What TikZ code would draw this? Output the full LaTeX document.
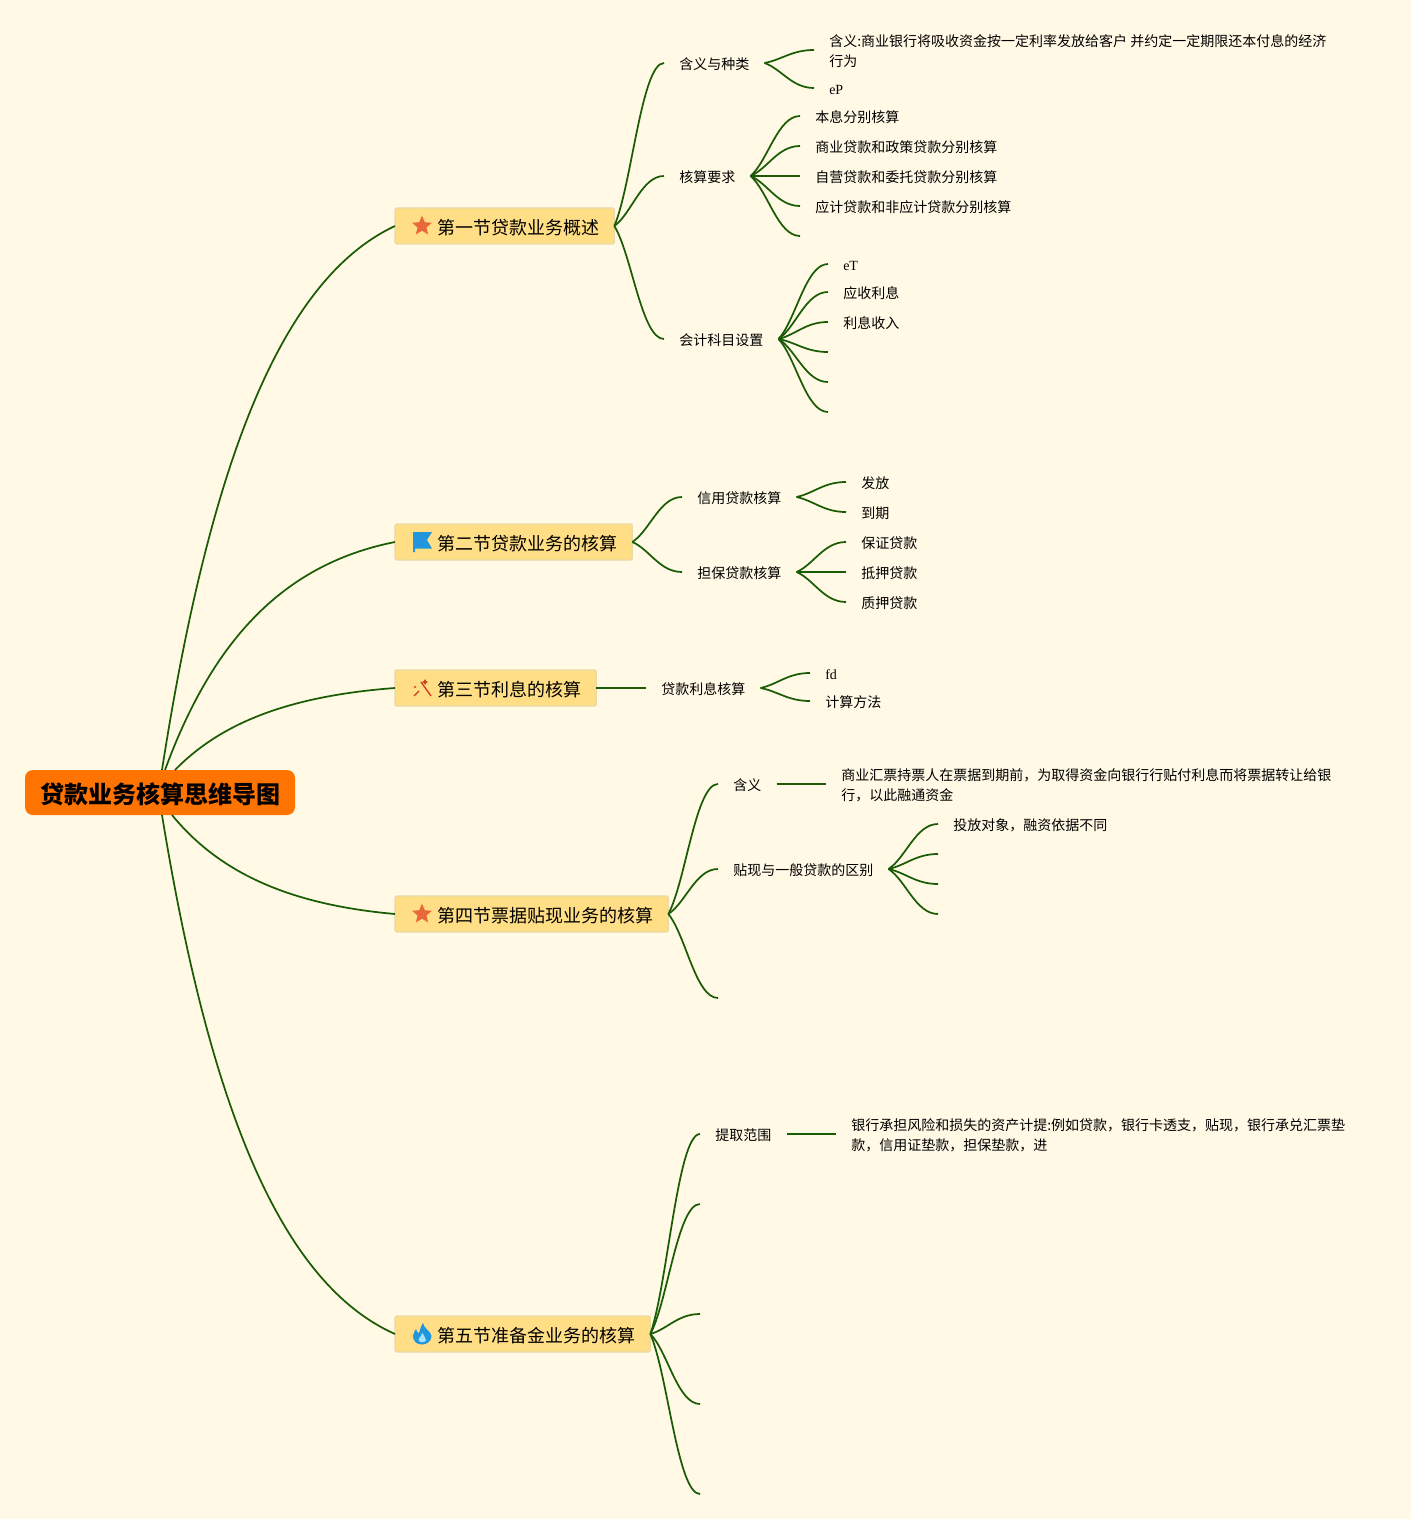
\documentclass[tikz,border=0pt]{standalone}
\usepackage{fontspec}
\setmainfont{Noto Sans CJK SC}
\newfontfamily\latinfont{Liberation Serif}
\usetikzlibrary{calc,shapes.geometric}
\definecolor{paper}{HTML}{FFF9E5}
\definecolor{wire}{HTML}{1A5C05}
\definecolor{rootfill}{HTML}{FF7300}
\definecolor{branchfill}{HTML}{FFDE85}
\definecolor{branchline}{HTML}{E8DAA6}
\definecolor{staricon}{HTML}{E8683A}
\definecolor{blueicon}{HTML}{2196DC}
\definecolor{wandicon}{HTML}{D0391C}
\newcommand{\lift}{\rule{0pt}{10.8pt}}
\tikzset{
    root/.style={fill=rootfill,rounded corners=6pt,minimum width=202.5pt,minimum height=33.75pt,inner sep=0pt,
        text height=17pt,text depth=.3pt,font=\fontsize{18}{22}\bfseries\selectfont},
    branch/.style={anchor=west,fill=branchfill,draw=branchline,line width=.9pt,rounded corners=1.5pt,outer sep=0pt,
        minimum height=27pt,inner xsep=11.5pt,inner ysep=0pt,text height=13pt,text depth=.54pt,
        font=\fontsize{13.5}{18}\selectfont},
    leaf/.style={anchor=west,inner xsep=11.25pt,inner ysep=0pt,text height=11pt,text depth=1.5pt,
        font=\fontsize{10.5}{15}\selectfont},
    longleaf/.style={anchor=west,inner xsep=11.25pt,inner ysep=0pt,align=left,font=\fontsize{10.5}{15}\selectfont},
    wirestyle/.style={draw=wire,line width=1.3pt},
    link/.style={wirestyle,to path={let \p1=(\tikztostart),\p2=(\tikztotarget) in
        .. controls ({\x1+.35*(\x2-\x1)},{\y1+.25*(\y2-\y1)}) and ({\x1+.55*(\x2-\x1)},\y2) .. (\tikztotarget)}},
    trunk/.style={wirestyle,to path={let \p1=(\tikztostart),\p2=(\tikztotarget) in
        .. controls ({\x1+.2*(\x2-\x1)},{\y1+.55*(\y2-\y1)}) and ({\x1+.5*(\x2-\x1)},{\y1+.9*(\y2-\y1)}) .. (\tikztotarget)}},
}
\begin{document}
\begin{tikzpicture}[x=.75pt,y=-.75pt]
    \fill[paper] (0,0) rectangle (1411,1519);
    \useasboundingbox (0,0) rectangle (1411,1519);

    \node[root] (root) at (160,792.5) {贷款业务核算思维导图};
    \node[branch] (b1) at (395,226) {\hspace{20pt}第一节贷款业务概述};
    \node[branch] (b2) at (395,542) {\hspace{20pt}第二节贷款业务的核算};
    \node[branch] (b3) at (395,688) {\hspace{20pt}第三节利息的核算};
    \node[branch] (b4) at (395,914) {\hspace{20pt}第四节票据贴现业务的核算};
    \node[branch] (b5) at (395,1334) {\hspace{20pt}第五节准备金业务的核算};

    % section 1
    \node[leaf] (kind) at (664,63) {含义与种类};
    \node[longleaf] (kinda) at (814,50) {\lift 含义:商业银行将吸收资金按一定利率发放给客户 并约定一定期限还本付息的经济\\行为};
    \node[leaf] (kindb) at (814,88) {\latinfont eP};
    \node[leaf] (need) at (664,176) {核算要求};
    \node[leaf] (needa) at (800,116) {本息分别核算};
    \node[leaf] (needb) at (800,146) {商业贷款和政策贷款分别核算};
    \node[leaf] (needc) at (800,176) {自营贷款和委托贷款分别核算};
    \node[leaf] (needd) at (800,206) {应计贷款和非应计贷款分别核算};
    \coordinate (neede) at (800,236);
    \node[leaf] (acct) at (664,339) {会计科目设置};
    \node[leaf] (accta) at (828,264) {\latinfont eT};
    \node[leaf] (acctb) at (828,292) {应收利息};
    \node[leaf] (acctc) at (828,322) {利息收入};
    \coordinate (acctd) at (828,352);
    \coordinate (accte) at (828,382);
    \coordinate (acctf) at (828,412);

    % section 2
    \node[leaf] (credit) at (682,497) {信用贷款核算};
    \node[leaf] (credita) at (846,482) {发放};
    \node[leaf] (creditb) at (846,512) {到期};
    \node[leaf] (secure) at (682,572) {担保贷款核算};
    \node[leaf] (securea) at (846,542) {保证贷款};
    \node[leaf] (secureb) at (846,572) {抵押贷款};
    \node[leaf] (securec) at (846,602) {质押贷款};

    % section 3
    \node[leaf] (rate) at (646,688) {贷款利息核算};
    \node[leaf] (ratea) at (810,673) {\latinfont fd};
    \node[leaf] (rateb) at (810,701) {计算方法};

    % section 4
    \node[leaf] (mean) at (718,784) {含义};
    \node[longleaf] (meana) at (826,784) {\lift 商业汇票持票人在票据到期前，为取得资金向银行行贴付利息而将票据转让给银\\行，以此融通资金};
    \node[leaf] (diff) at (718,869) {贴现与一般贷款的区别};
    \node[leaf] (diffa) at (938,824) {投放对象，融资依据不同};
    \coordinate (diffb) at (938,854);
    \coordinate (diffc) at (938,884);
    \coordinate (diffd) at (938,914);
    \coordinate (disc) at (718,998);

    % section 5
    \node[leaf] (scope) at (700,1134) {提取范围};
    \node[longleaf] (scopea) at (836,1134) {\lift 银行承担风险和损失的资产计提:例如贷款，银行卡透支，贴现，银行承兑汇票垫\\款，信用证垫款，担保垫款，进};
    \coordinate (resa) at (700,1204);
    \coordinate (resb) at (700,1314);
    \coordinate (resc) at (700,1404);
    \coordinate (resd) at (700,1494);

    % root to sections
    \coordinate (r1) at (162,770);
    \coordinate (r2) at (165,770);
    \coordinate (r3) at (175,770);
    \coordinate (r4) at (172,815);
    \coordinate (r5) at (162,815);
    \foreach \a/\b in {r1/b1,r2/b2,r3/b3,r4/b4,r5/b5}
        \draw[trunk] (\a) to (\b.west);

    \foreach \a/\b in {b1/kind,b1/need,b1/acct,kind/kinda,kind/kindb,need/needa,need/needb,need/needc,need/needd,
            acct/accta,acct/acctb,acct/acctc,b2/credit,b2/secure,credit/credita,credit/creditb,
            secure/securea,secure/secureb,secure/securec,b3/rate,rate/ratea,rate/rateb,
            b4/mean,b4/diff,mean/meana,diff/diffa,b5/scope,scope/scopea}
        \draw[link] (\a.east) to (\b.west);
    \foreach \a/\b in {need/neede,acct/acctd,acct/accte,acct/acctf,diff/diffb,diff/diffc,diff/diffd,
            b4/disc,b5/resa,b5/resb,b5/resc,b5/resd}
        \draw[link] (\a.east) to (\b);

    % icons
    \node[star,star points=5,star point ratio=2.2,fill=staricon,inner sep=0pt,minimum size=15.5pt] (star1) at (422,226) {};
    \node[star,star points=5,star point ratio=2.2,fill=staricon,inner sep=0pt,minimum size=15.5pt] (star4) at (422,914) {};
    \fill[blueicon] (413,532) -- (432,532) -- (427,540) -- (432,548.5) -- (415,548.5) -- (415,552) -- (413,552) -- cycle;
    \draw[wandicon,line width=1pt] (421,682) -- (431,696);
    \draw[wandicon,line width=1pt] (414,696) -- (419,691);
    \fill[wandicon] (425,679) -- (426,681) -- (428,682) -- (426,683) -- (425,685) -- (424,683) -- (422,682) -- (424,681) -- cycle;
    \fill[wandicon] (415,687) circle (1.2);
    \fill[blueicon] (423,1323) .. controls (424,1329) and (431,1331) .. (431.5,1336)
        .. controls (431.5,1341) and (427,1344.5) .. (422,1344.5) .. controls (416.5,1344.5) and (413,1341) .. (413,1336)
        .. controls (413,1333) and (415,1331) .. (416,1329) .. controls (416.5,1332) and (418,1333) .. (419,1333)
        .. controls (420,1330) and (421,1326) .. (423,1323);
    \fill[cyan!35] (422.5,1333) .. controls (423,1336) and (426,1337) .. (426,1340) .. controls (426,1343) and (418,1343) .. (418.5,1339.5)
        .. controls (419,1337) and (422,1336) .. (422.5,1333);
\end{tikzpicture}
\end{document}
